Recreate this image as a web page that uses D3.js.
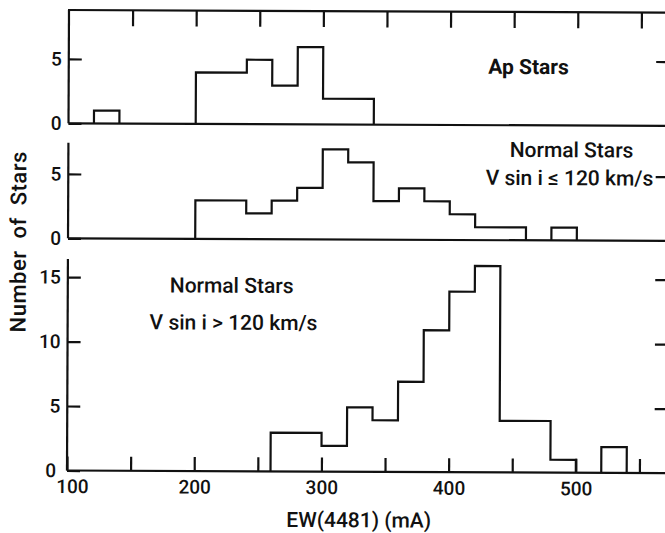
<!DOCTYPE html>
<html>
<head>
<meta charset="utf-8">
<script src="https://cdn.jsdelivr.net/npm/d3@7"></script>
<style>
  html, body { margin: 0; padding: 0; background: #fff; }
  svg { display: block; }
  text { font-family: Roboto, "Liberation Sans", sans-serif; fill: #111; }
</style>
</head>
<body>
<svg id="chart" width="665" height="533"></svg>
<script>
// Equivalent width of the 4481 line, histogram bins (mA) and star counts
const apBinStart = [120, 200, 240, 260, 280, 300];
const apBinEnd   = [140, 240, 260, 280, 300, 340];
const apCount    = [1, 4, 5, 3, 6, 2];

const slowBinStart = [200, 240, 260, 280, 300, 320, 340, 360, 380, 400, 420, 480];
const slowBinEnd   = [240, 260, 280, 300, 320, 340, 360, 380, 400, 420, 460, 500];
const slowCount    = [3, 2, 3, 4, 7, 6, 3, 4, 3, 2, 1, 1];

const fastBinStart = [260, 300, 320, 340, 360, 380, 400, 420, 440, 480, 520];
const fastBinEnd   = [300, 320, 340, 360, 380, 400, 420, 440, 480, 500, 540];
const fastCount    = [3, 2, 5, 4, 7, 11, 14, 16, 4, 1, 2];

const xTickValues  = [100, 150, 200, 250, 300, 350, 400, 450, 500, 550];
const xTickLabels  = ["100", "", "200", "", "300", "", "400", "", "500", ""];
const topTickValues = [150, 200, 250, 300, 350, 400, 450, 500, 550];

const apTicks   = [0, 5];
const slowTicks = [0, 5];
const fastTicks = [0, 5, 10, 15];

const svg = d3.select("#chart");
// the whole drawing sits with a slight clockwise tilt
const root = svg.append("g").attr("transform", "rotate(0.25,68,240)");

const x = d3.scaleLinear().domain([100, 572]).range([68, 668.4]);
const xLeft = x(100), xRight = x(572);
const ink = "#111";
const lw = 2.2;

const panels = [
  { start: apBinStart,   end: apBinEnd,   count: apCount,   ticks: apTicks,   top: 10,    base: 123.3, max: 8.8 },
  { start: slowBinStart, end: slowBinEnd, count: slowCount, ticks: slowTicks, top: 142.7, base: 238.3, max: 7.43 },
  { start: fastBinStart, end: fastBinEnd, count: fastCount, ticks: fastTicks, top: 259,   base: 470.5, max: 16.4 }
];

// Outline of a histogram: contiguous bins form one stepped outline
function outline(p, y) {
  const pts = [];
  const segs = [];
  for (let i = 0; i < p.start.length; i++) {
    const contiguous = i > 0 && p.start[i] === p.end[i - 1];
    if (!contiguous) {
      if (pts.length) { pts.push([p.end[i - 1], 0]); segs.push(pts.splice(0)); }
      pts.push([p.start[i], 0]);
    }
    pts.push([p.start[i], p.count[i]]);
    pts.push([p.end[i], p.count[i]]);
  }
  pts.push([p.end[p.end.length - 1], 0]);
  segs.push(pts);
  const line = d3.line().x(d => x(d[0])).y(d => y(d[1]));
  return segs.map(line).join("");
}

panels.forEach((p, i) => {
  const y = d3.scaleLinear().domain([0, p.max]).range([p.base, p.top]);
  const g = root.append("g");

  // histogram
  g.append("path")
    .attr("d", outline(p, y))
    .attr("fill", "none")
    .attr("stroke", ink)
    .attr("stroke-width", lw)
    .attr("stroke-linejoin", "miter");

  // left axis, inward ticks
  const left = g.append("g")
    .attr("transform", `translate(${xLeft},0)`)
    .call(d3.axisLeft(y).tickValues(p.ticks).tickSizeInner(-13).tickSizeOuter(0).tickPadding(7).tickFormat(d3.format("d")));
  left.select(".domain").remove();
  left.selectAll("line").attr("stroke", ink).attr("stroke-width", lw);
  left.selectAll("text").style("font-size", "19px").style("font-weight", 500).attr("fill", ink);
  if (i === 2) left.selectAll("text").filter(d => d === 0).attr("dx", -4);

  // right axis ticks
  const right = g.append("g")
    .attr("transform", `translate(${xRight},0)`)
    .call(d3.axisRight(y).tickValues(p.ticks.filter(d => d > 0)).tickSizeInner(-13).tickSizeOuter(0).tickFormat(""));
  right.select(".domain").remove();
  right.selectAll("line").attr("stroke", ink).attr("stroke-width", lw);

  // axis lines
  g.append("line")
    .attr("x1", xLeft).attr("x2", xLeft).attr("y1", p.top).attr("y2", p.base)
    .attr("stroke", ink).attr("stroke-width", lw);
  g.append("line")
    .attr("x1", xLeft).attr("x2", xRight).attr("y1", p.base).attr("y2", p.base)
    .attr("stroke", ink).attr("stroke-width", lw);
});

// top frame with downward ticks
const topAxis = root.append("g")
  .attr("transform", `translate(0,${panels[0].top})`)
  .call(d3.axisTop(x).tickValues(topTickValues).tickSizeInner(-16).tickSizeOuter(0).tickFormat(""));
topAxis.select(".domain").remove();
topAxis.selectAll("line").attr("stroke", ink).attr("stroke-width", lw);
root.append("line")
  .attr("x1", xLeft - 1).attr("x2", xRight).attr("y1", panels[0].top).attr("y2", panels[0].top)
  .attr("stroke", ink).attr("stroke-width", lw);

// bottom axis with upward ticks
const bottomAxis = root.append("g")
  .attr("transform", `translate(0,${panels[2].base})`)
  .call(d3.axisBottom(x).tickValues(xTickValues).tickSizeInner(-14).tickSizeOuter(0).tickPadding(9)
    .tickFormat((d, k) => xTickLabels[k]));
bottomAxis.select(".domain").remove();
bottomAxis.selectAll("line").attr("stroke", ink).attr("stroke-width", lw);
bottomAxis.selectAll("text").style("font-size", "19px").style("font-weight", 500).attr("fill", ink);
bottomAxis.selectAll("text").filter(d => d === 100).attr("dx", 5);

// axis titles
root.append("text")
  .attr("x", 360).attr("y", 526)
  .attr("text-anchor", "middle")
  .style("font-size", "21px")
  .style("font-weight", 500)
  .text("EW(4481) (mA)");

root.append("text")
  .attr("transform", "translate(26,242) rotate(-90)")
  .attr("text-anchor", "middle")
  .style("font-size", "22px")
  .style("font-weight", 500)
  .style("word-spacing", "6px")
  .style("letter-spacing", "0.5px")
  .text("Number of Stars");

// panel annotations
const notes = [
  { text: "Ap Stars",            x: 568, y: 72,  anchor: "end",   weight: 700 },
  { text: "Normal Stars",        x: 633, y: 155, anchor: "end",   weight: 500 },
  { text: "V sin i ≤ 120 km/s",  x: 653, y: 183, anchor: "end",   weight: 500 },
  { text: "Normal Stars",        x: 170, y: 292, anchor: "start", weight: 500 },
  { text: "V sin i > 120 km/s",  x: 150, y: 329, anchor: "start", weight: 500 }
];
root.selectAll("text.note")
  .data(notes)
  .join("text")
  .attr("class", "note")
  .attr("x", d => d.x).attr("y", d => d.y)
  .attr("text-anchor", d => d.anchor)
  .style("font-size", "21px")
  .style("font-weight", d => d.weight)
  .text(d => d.text);
</script>
</body>
</html>
